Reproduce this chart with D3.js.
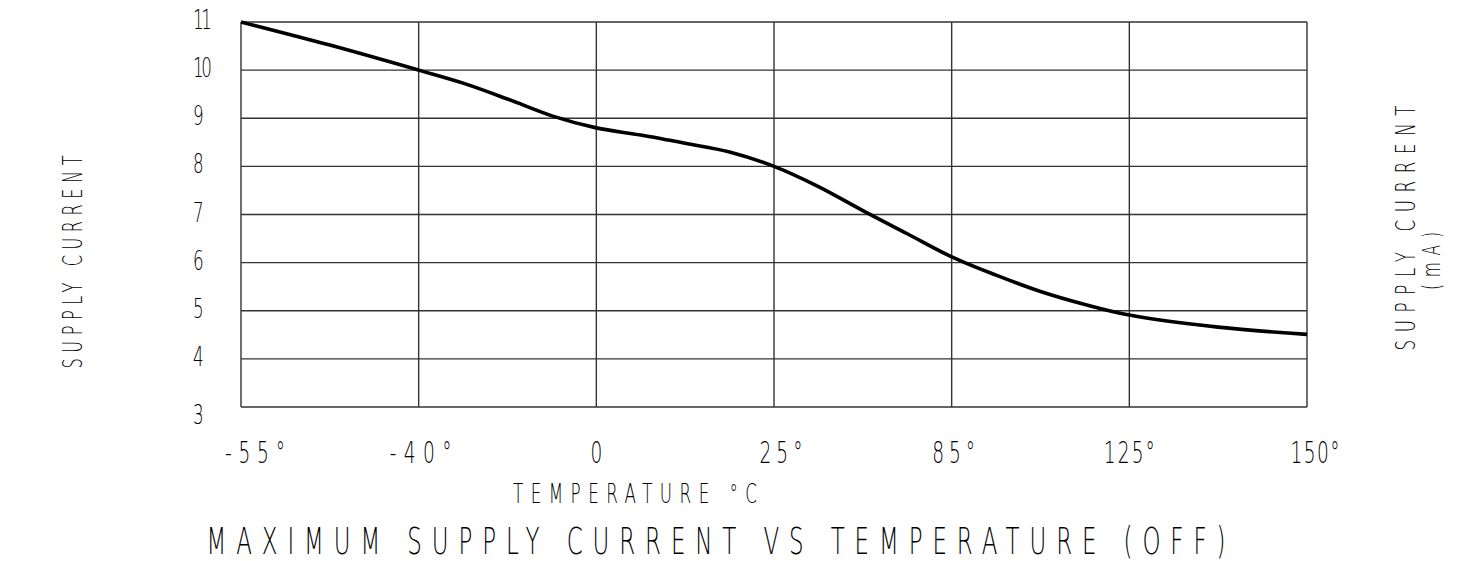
<!DOCTYPE html>
<html><head><meta charset="utf-8">
<script src="https://cdn.jsdelivr.net/npm/d3@7"></script>
<style>html,body{margin:0;padding:0;background:#fff;}svg{display:block;}</style>
</head><body>
<script>
// ---- data ----
const categories = ["-55°", "-40°", "0", "25°", "85°", "125°", "150°"];
const yTicks = [3, 4, 5, 6, 7, 8, 9, 10, 11];
const yTickLabels = ["3", "4", "5", "6", "7", "8", "9", "10", "11"];
// curve position measured in category index units
const curvePos = [0, 0.5, 1, 1.25, 1.5, 1.75, 2, 2.25, 2.5, 2.75, 3, 3.25, 3.5, 3.75, 4, 4.25, 4.5, 4.75, 5, 5.5, 6];
const curveVal = [11, 10.52, 10.0, 9.73, 9.4, 9.05, 8.8, 8.65, 8.48, 8.3, 8.0, 7.58, 7.08, 6.6, 6.12, 5.74, 5.4, 5.13, 4.91, 4.66, 4.51];
const xTitle = "TEMPERATURE °C";
const yTitleLeft = "SUPPLY CURRENT";
const yTitleRight = "SUPPLY CURRENT";
const yUnit = "(mA)";
const chartTitle = "MAXIMUM SUPPLY CURRENT VS TEMPERATURE (OFF)";

// ---- layout ----
const W = 1469, H = 561;
const L = 241, R = 1307, T = 22, B = 407;
const svg = d3.select("body").append("svg").attr("width", W).attr("height", H);

const x = d3.scalePoint().domain(categories).range([L, R]);
const xi = d3.scaleLinear().domain([0, categories.length - 1]).range([L, R]);
const y = d3.scaleLinear().domain([3, 11]).range([B, T]);

const FONT = "'DejaVu Sans', sans-serif";
const SX = 0.62;
function label(g, txt, px, py, size, opts = {}) {
  const rot = opts.rotate ? " rotate(-90)" : "";
  const t = g.append("text")
    .attr("transform", `translate(${px},${py})${rot} scale(${SX},1)`)
    .attr("font-family", FONT)
    .attr("font-weight", 200)
    .attr("font-size", size)
    .attr("fill", "#000")
    .attr("text-anchor", opts.anchor || "middle")
    .text(txt);
  if (opts.len) t.attr("textLength", opts.len / SX).attr("lengthAdjust", "spacing");
  return t;
}

// grid
const grid = svg.append("g").attr("stroke", "#333").attr("stroke-width", 1.4).attr("fill", "none");
grid.selectAll("line.h").data(yTicks).join("line")
  .attr("x1", L).attr("x2", R).attr("y1", d => y(d)).attr("y2", d => y(d));
grid.selectAll("line.v").data(categories).join("line")
  .attr("x1", d => x(d)).attr("x2", d => x(d)).attr("y1", T).attr("y2", B);

// curve
const line = d3.line().x(d => xi(d[0])).y(d => y(d[1])).curve(d3.curveCatmullRom.alpha(0.5));
svg.append("path").datum(curvePos.map((p, i) => [p, curveVal[i]]))
  .attr("d", line).attr("fill", "none").attr("stroke", "#000").attr("stroke-width", 3.6)
  .attr("stroke-linejoin", "round");

// y tick labels
const gy = svg.append("g");
yTicks.forEach((v, i) => {
  const txt = yTickLabels[i];
  const yy = v === 3 ? y(v) + 17 : y(v) + 7;
  label(gy, txt, 193, yy, 27, { anchor: "start", len: txt.length > 1 ? 19 : null });
});

// x tick labels
const gx = svg.append("g");
const xOff = [14, 2, 0, 7, 2, 0, 8];
const xLen = [60, 62, null, 43, 43, 51, 49];
categories.forEach((c, i) => {
  label(gx, c, x(c) + xOff[i], 463, 30, { len: xLen[i] });
});

// axis titles
label(svg, xTitle, 635, 503, 27, { len: 244 });
label(svg, chartTitle, 716, 554, 37, { len: 1019 });
label(svg, yTitleLeft, 82, 262, 26, { rotate: true, len: 213 });
label(svg, yTitleRight, 1415, 228, 27, { rotate: true, len: 245 });
label(svg, yUnit, 1440, 261, 25, { rotate: true, len: 58 });
</script>
</body></html>
